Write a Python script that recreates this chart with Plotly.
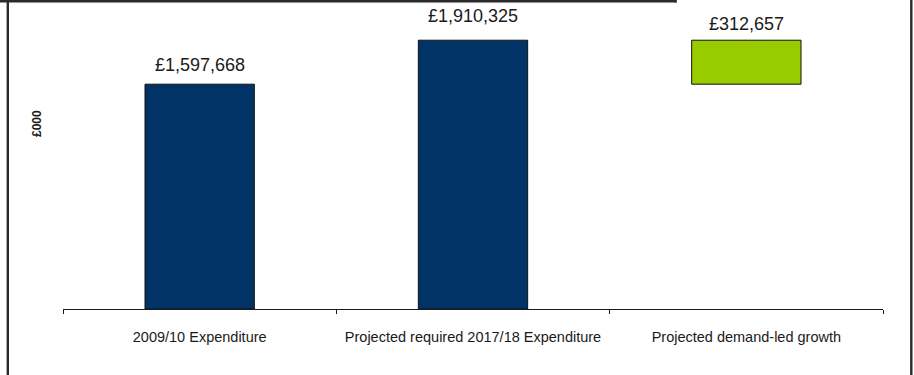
import plotly.graph_objects as go

# Expenditure data (£000)
categories = ["2009/10 Expenditure",
              "Projected required 2017/18 Expenditure",
              "Projected demand-led growth"]
start_value = 1597668
end_value = 1910325
growth_value = 312657

bar_values = [start_value, end_value, growth_value]
bar_bases = [0, 0, start_value]
bar_colors = ["#023366", "#023366", "#99CC00"]
value_labels = ["£{:,}".format(v) for v in bar_values]

# label offsets above each bar top (px)
label_shifts = [19, 24, 16.5]

W, H = 914, 375
ml, mr, mt, mb = 63, 31, 10, 66
pw, ph = W - ml - mr, H - mt - mb


def px_x(x):
    return (x - ml) / pw


def px_y(y):
    return (H - mb - y) / ph


fig = go.Figure()
fig.add_trace(go.Bar(
    x=categories,
    y=bar_values,
    base=bar_bases,
    width=0.4,
    marker=dict(color=bar_colors, line=dict(color="#111111", width=1)),
    hoverinfo="skip",
))

for cat, v, b, txt, s in zip(categories, bar_values, bar_bases, value_labels, label_shifts):
    fig.add_annotation(
        x=cat, y=v + b, text=txt, showarrow=False,
        yanchor="middle", yshift=s,
        font=dict(family="Liberation Sans, Arial", size=18, color="#1a1a1a"),
    )

# rotated unit label
fig.add_annotation(
    xref="paper", yref="paper", x=px_x(37), y=px_y(124),
    text="<b>£000</b>", textangle=-90, showarrow=False,
    xanchor="center", yanchor="middle",
    font=dict(family="Liberation Sans, Arial", size=12, color="#1a1a1a"),
)

# frame lines around the chart
frame = dict(color="#2b2b2b", width=2.4)
fig.add_shape(type="line", xref="paper", yref="paper",
              x0=px_x(7.8), x1=px_x(7.8), y0=px_y(0), y1=px_y(H), line=frame)
fig.add_shape(type="line", xref="paper", yref="paper",
              x0=px_x(0), x1=px_x(676.5), y0=px_y(1.2), y1=px_y(1.2), line=frame)
fig.add_shape(type="line", xref="paper", yref="paper",
              x0=px_x(675.5), x1=px_x(675.5), y0=px_y(0), y1=px_y(2.5), line=frame)
fig.add_shape(type="line", xref="paper", yref="paper",
              x0=px_x(911.3), x1=px_x(911.3), y0=px_y(0), y1=px_y(H), line=frame)

fig.update_layout(
    width=W, height=H,
    margin=dict(l=ml, r=mr, t=mt, b=mb),
    paper_bgcolor="white", plot_bgcolor="white",
    showlegend=False,
    bargap=0.6,
    font=dict(family="Liberation Sans, Arial", color="#1a1a1a"),
    xaxis=dict(
        type="category", range=[-0.5, 2.5],
        showline=True, linecolor="#1a1a1a", linewidth=1,
        ticks="outside", tickson="boundaries", ticklen=4, tickcolor="#1a1a1a",
        tickfont=dict(size=14.5, family="Liberation Sans, Arial", color="#1a1a1a"),
        ticklabelstandoff=15,
        showgrid=False, zeroline=False,
    ),
    yaxis=dict(
        range=[0, 2125000], visible=False, showgrid=False, zeroline=False,
    ),
)

fig.write_html("out.html")
